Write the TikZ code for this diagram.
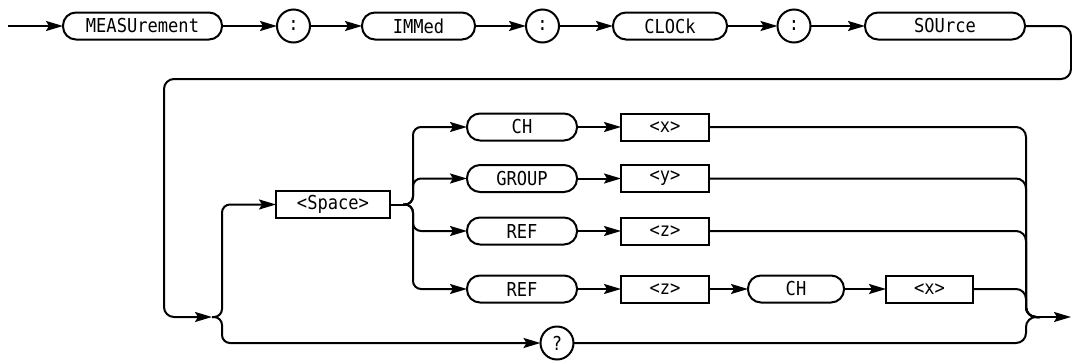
\documentclass[tikz,border=0pt]{standalone}
\usepackage{fontspec}
\newfontfamily\synfont[FakeStretch=0.89]{DejaVu Sans Mono}
\usetikzlibrary{arrows.meta}
\definecolor{synink}{HTML}{000000}

\begin{document}
\begin{tikzpicture}[
  x=0.5pt, y=-0.5pt,
  every node/.style={inner sep=0pt, outer sep=0pt, text=synink,
                     font=\synfont\fontsize{9.6}{11}\selectfont},
  kw/.style={draw=synink, line width=1pt, rounded corners=6.5pt, minimum height=13.5pt},
  par/.style={draw=synink, line width=1pt, minimum height=13.5pt},
  sep/.style={draw=synink, line width=1pt, circle, minimum size=16.5pt},
  wire/.style={draw=synink, line width=1pt},
  flow/.style={wire, -{Stealth[length=8.5pt,width=5pt,inset=1.5pt]}},
]
\useasboundingbox (0,0) rectangle (1072,360);

% junctions and bends, in pixels of the sheet
\coordinate (start) at (8,26);
\coordinate (loopR) at (1071,79);
\coordinate (loopL) at (164,317);
\coordinate (jin)   at (212,317);
\coordinate (lbus)  at (222,317);
\coordinate (jsp)   at (403,204.5);
\coordinate (sbus)  at (413,204.5);
\coordinate (rbus)  at (1026,317);
\coordinate (jout)  at (1040,317);
\coordinate (fin)   at (1071,317);

% ---------- header path ----------
\node[kw, minimum width=79.5pt] (meas) at (142.5,26) {MEASUrement};
\node[sep] (c1) at (293.5,26) {:};
\node[kw, minimum width=56.5pt] (imm) at (418.5,26) {IMMed};
\node[sep] (c2) at (542.5,26) {:};
\node[kw, minimum width=57pt] (clk) at (670,26) {CLOCk};
\node[sep] (c3) at (794,26) {:};
\node[kw, minimum width=80pt] (src) at (945,26) {SOUrce};

\draw[flow] (start) -- (meas);
\foreach \a/\b in {meas/c1, c1/imm, imm/c2, c2/clk, clk/c3, c3/src}{
  \draw[flow] (\a) -- (\b);
}
\draw[flow, rounded corners=5pt] (src.east) -| (loopR) -| (loopL) -- (jin);

% ---------- space or query ----------
\node[par, minimum width=57pt] (spc) at (333,204.5) {<Space>};
\node[sep] (q) at (557,343) {?};
\draw[flow, rounded corners=4pt] (jin) -- (lbus) |- (spc.west);
\draw[flow, rounded corners=4pt] (jin) -- (lbus) |- (q.west);
\draw[wire] (spc.east) -- (jsp);

% ---------- source choices ----------
\foreach \n/\y/\kwd/\arg in {ch/127/CH/<x>, grp/178.5/GROUP/<y>,
                             ref/231/REF/<z>, refc/289/REF/<z>}{
  \node[kw, minimum width=55pt] (\n k) at (522,\y) {\kwd};
  \node[par, minimum width=44pt] (\n a) at (665,\y) {\arg};
  \draw[flow, rounded corners=4pt] (jsp) -- (sbus) |- (\n k.west);
  \draw[flow] (\n k) -- (\n a);
}
\node[kw, minimum width=48pt] (ck) at (796,289) {CH};
\node[par, minimum width=43.5pt] (cx) at (929.5,289) {<x>};
\draw[flow] (refca) -- (ck);
\draw[flow] (ck) -- (cx);

% ---------- merge to exit ----------
\foreach \s in {cha, grpa, refa, cx, q}{
  \draw[wire, rounded corners=5pt] (\s.east) -| (rbus) -- (jout);
}
\draw[flow] (jout) -- (fin);

\end{tikzpicture}
\end{document}
